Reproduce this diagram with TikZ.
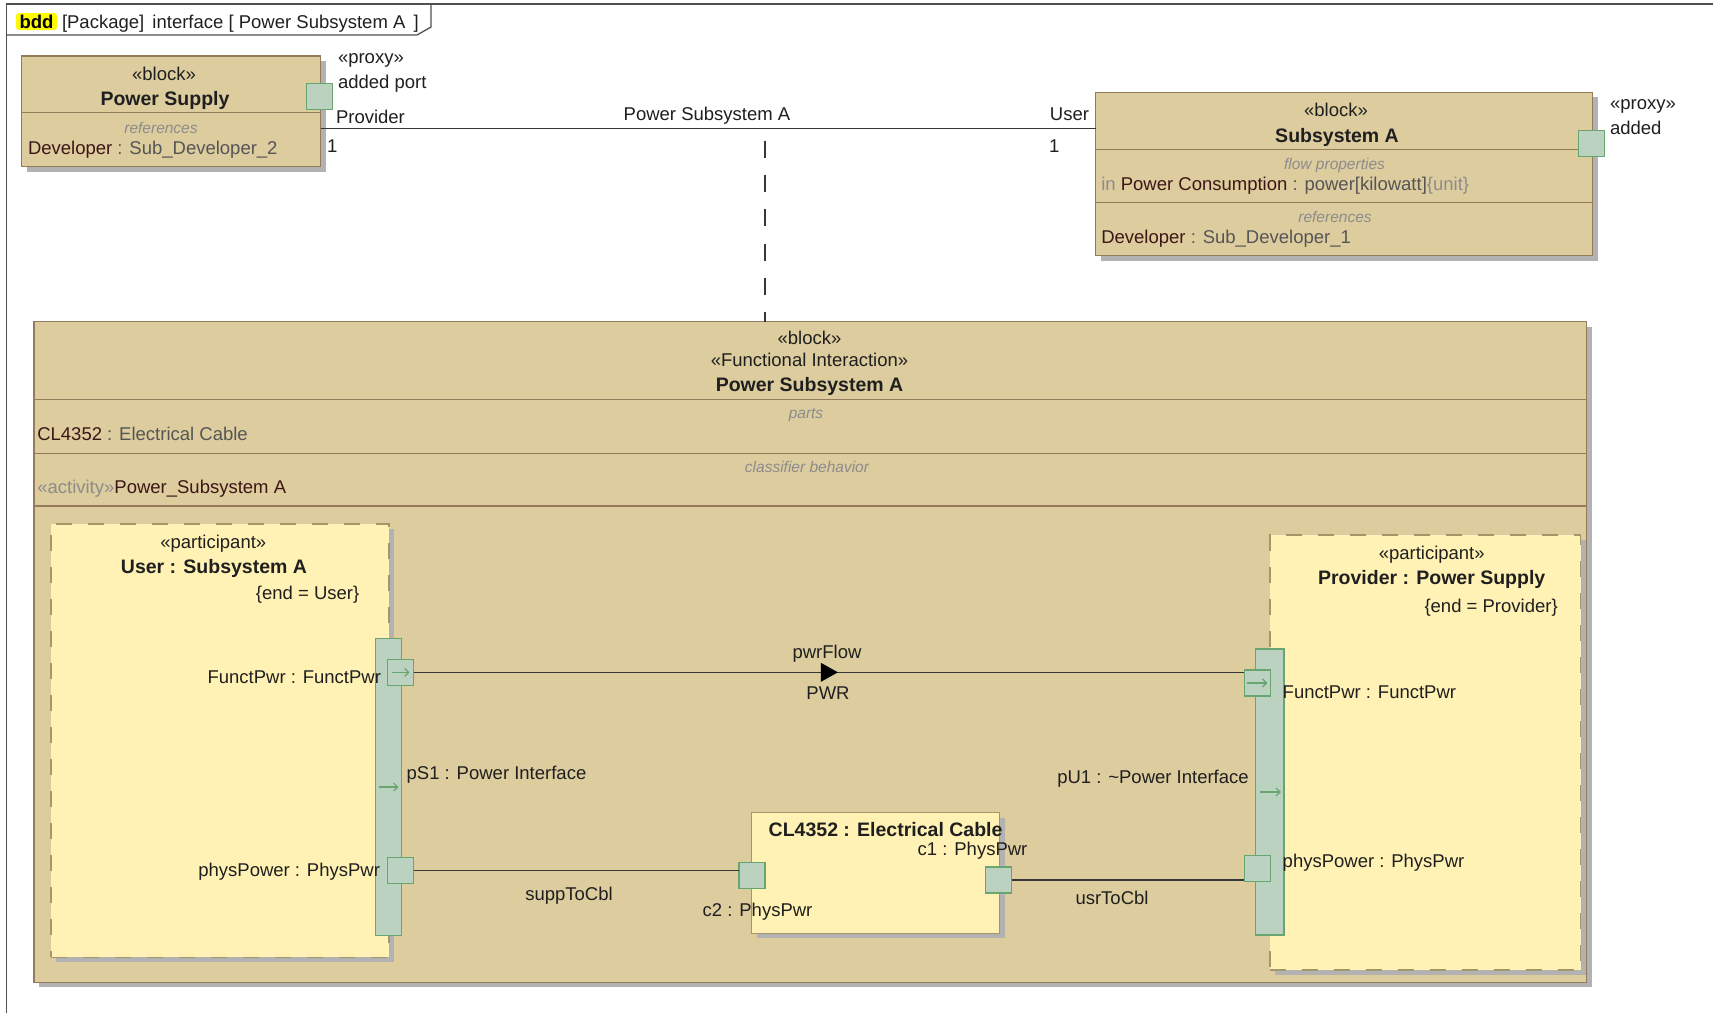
\documentclass[tikz,border=0pt]{standalone}
\usepackage{fontspec}
\setmainfont{Liberation Sans}
\usetikzlibrary{arrows.meta,shadows,calc}
\definecolor{blkfill}{RGB}{220,204,158}
\definecolor{blkdraw}{RGB}{150,122,92}
\definecolor{partfill}{RGB}{255,242,180}
\definecolor{partdraw}{RGB}{165,150,105}
\definecolor{portfill}{RGB}{188,210,193}
\definecolor{portdraw}{RGB}{104,165,112}
\definecolor{shadowc}{RGB}{178,178,178}
\definecolor{linec}{RGB}{55,55,55}
\definecolor{namec}{RGB}{60,22,22}
\definecolor{typec}{RGB}{85,85,85}
\definecolor{metac}{RGB}{140,140,140}
\definecolor{hl}{RGB}{255,250,0}
\definecolor{framec}{RGB}{80,80,80}
\begin{document}
\begin{tikzpicture}[x=1pt,y=-1pt,
  every node/.style={inner sep=0pt, outer sep=0pt},
  txt/.style={font=\fontsize{18.5}{21}\selectfont, text height=13.2, text depth=0, text=black!88},
  txtb/.style={txt, font=\fontsize{19.5}{22}\selectfont\bfseries},
  txtm/.style={font=\fontsize{15.5}{18}\selectfont\itshape, text height=11.1, text depth=0, text=metac},
  dropsh/.style={general shadow={fill=shadowc, shadow xshift=5pt, shadow yshift=-5pt}},
  blockbox/.style={draw=blkdraw, fill=blkfill, line width=1.3, dropsh},
  partbox/.style={draw=partdraw, fill=partfill, line width=1.5, dash pattern=on 16pt off 16pt, dropsh},
  cablebox/.style={draw=partdraw, fill=partfill, line width=1.5, dropsh},
  divline/.style={draw=blkdraw, line width=1.3},
  portsq/.style={draw=portdraw, fill=portfill, line width=1.3, minimum width=26, minimum height=26},
  portbar/.style={draw=portdraw, fill=portfill, line width=1.3},
  portarrow/.style={draw=portdraw, line width=1.2, -{Straight Barb[length=4pt,width=8pt]}},
  conn/.style={draw=linec, line width=1.5}
]
\fill[white] (0,0) rectangle (1713,1013);
\useasboundingbox (0,0) rectangle (1713,1013);

% frame
\draw[framec, line width=1.3] (1713,4) -- (6.7,4) -- (6.7,1013);
\draw[framec, line width=1.3] (6.7,35) -- (417,35) -- (431,27) -- (431,4);
\node[fill=hl, rounded corners=3, minimum width=41, minimum height=17, font=\fontsize{18.5}{21}\selectfont\bfseries, text height=13.2, text depth=0] (bdd) at (36.5,21.5) {bdd};
\node[txt, anchor=west] (ttl) at (62,21.5) {[Package]\ \,interface [\ Power Subsystem A\ \,]};

% Power Supply block
\node[blockbox, minimum width=299, minimum height=110.7] (ps) at (171.2,111.35) {};
\draw[divline] (21.7,112.7) -- (320.7,112.7);
\node[txt] (psst) at (164,74) {«block»};
\node[txtb] (psnm) at (165,99) {Power Supply};
\node[txtm] (psref) at (161,128) {references};
\node[txt, anchor=west] (psdev) at (28,148) {{\color{namec}Developer}{\color{typec}\ : Sub\_Developer\_2}};
\node[portsq] (psp) at (319.5,96.5) {};
\node[txt, anchor=west] (psprx) at (338,57) {«proxy»};
\node[txt, anchor=west] (psadd) at (338,82) {added port};

% Subsystem A block
\node[blockbox, minimum width=496.9, minimum height=163.4] (sa) at (1344.25,174) {};
\draw[divline] (1095.8,149.3) -- (1592.7,149.3);
\draw[divline] (1095.8,202.7) -- (1592.7,202.7);
\node[txt] (sast) at (1336,110) {«block»};
\node[txtb] (sanm) at (1337,136) {Subsystem A};
\node[txtm] (saflow) at (1334.5,164) {flow properties};
\node[txt, anchor=west] (saprop) at (1101.3,184) {{\color{metac}in }{\color{namec}Power Consumption}{\color{typec}\ : power[kilowatt]}{\color{metac}\{unit\}}};
\node[txtm] (saref) at (1335,217) {references};
\node[txt, anchor=west] (sadev) at (1101.3,236.7) {{\color{namec}Developer}{\color{typec}\ : Sub\_Developer\_1}};
\node[portsq] (sap) at (1591.5,143.3) {};
\node[txt, anchor=west] (saprx) at (1610,103.3) {«proxy»};
\node[txt, anchor=west] (saadd) at (1610,128) {added};

% association
\coordinate (aY) at (0,128.3);
\draw[conn] (ps.east |- aY) -- (sa.west |- aY);
\node[txt, anchor=west] (provlbl) at (336,117) {Provider};
\node[txt, anchor=west] (prov1) at (327,146) {1};
\node[txt, anchor=east] (userlbl) at (1089,114) {User};
\node[txt, anchor=west] (user1) at (1049,146) {1};
\node[txt] (asslbl) at (707,114) {Power Subsystem A};

% big block
\node[blockbox, minimum width=1552.6, minimum height=660.6] (pss) at (810.2,652) {};
\draw[divline] (33.9,399.3) -- (1586.5,399.3);
\draw[divline] (33.9,453.3) -- (1586.5,453.3);
\draw[divline] (33.9,506) -- (1586.5,506);
\node[txt] (pssst) at (809.5,337.6) {«block»};
\node[txt] (pssfi) at (809.5,359.4) {«Functional Interaction»};
\node[txtb] (pssnm) at (809.5,384.6) {Power Subsystem A};
\node[txtm] (pssparts) at (806,413) {parts};
\node[txt, anchor=west] (psspart) at (37.3,434) {{\color{namec}CL4352}{\color{typec}\ : Electrical Cable}};
\node[txtm] (psscb) at (807,466.5) {classifier behavior};
\node[txt, anchor=west] (pssact) at (37.3,486.7) {{\color{metac}«activity»}{\color{namec}Power\_Subsystem A}};

% dashed link
\coordinate (dX) at (765,0);
\draw[conn, line width=1.8, dash pattern=on 17pt off 17.3pt] ($(dX |- aY)+(0,12.4)$) -- (dX |- pss.north);

% User participant
\node[partbox, minimum width=338, minimum height=433.3] (usr) at (220,740.65) {};
\node[txt] (usrst) at (213.3,541.7) {«participant»};
\node[txtb] (usrnm) at (214,566.7) {User : Subsystem A};
\node[txt, anchor=east] (usrend) at (359.3,593.3) {\{end = User\}};

% Provider participant
\node[partbox, minimum width=310.7, minimum height=435] (prv) at (1425.35,752.5) {};
\node[txt] (prvst) at (1431.7,553.3) {«participant»};
\node[txtb] (prvnm) at (1431.7,578.3) {Provider : Power Supply};
\node[txt, anchor=east] (prvend) at (1557.7,605.7) {\{end = Provider\}};

% port bars
\node[portbar, minimum width=26.4, minimum height=296.6] (ub) at (388.5,787) {};
\node[portbar, minimum width=28.3, minimum height=286] (pb) at (1269.85,792) {};
\draw[portarrow] ($(ub.center)+(-10,0)$) -- ($(ub.center)+(10,0)$);
\draw[portarrow] ($(pb.center)+(-10,0)$) -- ($(pb.center)+(11,0)$);
\node[txt, anchor=west] (ps1) at (406.7,773.3) {pS1 : Power Interface};
\node[txt, anchor=east] (pu1) at (1248.7,776.8) {pU1 : \textasciitilde Power Interface};

% small ports
\node[portsq] (uF) at (400.5,672.3) {};
\node[portsq] (uP) at (400.5,870.7) {};
\node[portsq] (pF) at (1257.3,683) {};
\node[portsq] (pP) at (1257.3,868.5) {};
\draw[portarrow] ($(uF.center)+(-9,0)$) -- ($(uF.center)+(9,0)$);
\draw[portarrow] ($(pF.center)+(-10,0)$) -- ($(pF.center)+(10,0)$);
\node[txt, anchor=east] (uFl) at (381,676.7) {FunctPwr : FunctPwr};
\node[txt, anchor=east] (uPl) at (380,870) {physPower : PhysPwr};
\node[txt, anchor=west] (pFl) at (1282.7,691.7) {FunctPwr : FunctPwr};
\node[txt, anchor=west] (pPl) at (1282.7,860.7) {physPower : PhysPwr};

% cable
\node[cablebox, minimum width=248, minimum height=120.6] (cab) at (875.6,873) {};
\node[txtb] (cabnm) at (885.6,830) {CL4352 : Electrical Cable};
\node[portsq] (c2) at (752,875.8) {};
\node[portsq] (c1) at (998.7,880) {};
\node[txt, anchor=west] (c2l) at (702.7,910) {c2 : PhysPwr};
\node[txt, anchor=west] (c1l) at (917.7,849.3) {c1 : PhysPwr};

% connectors
\draw[conn] (uF.east) -- (uF.east -| pF.west);
\coordinate (fm) at ($(uF.east)!0.5!(uF.east -| pF.west)$);
\fill[black] ($(fm)+(-8,-9.5)$) -- ($(fm)+(9,0)$) -- ($(fm)+(-8,9.5)$) -- cycle;
\node[txt] (flowl) at (827,652) {pwrFlow};
\node[txt] (pwrl) at (828,692.6) {PWR};
\draw[conn] (uP.east) -- (uP.east -| c2.west);
\node[txt] (supl) at (569,893.6) {suppToCbl};
\draw[conn] (c1.east) -- (c1.east -| pP.west);
\node[txt] (usrl) at (1112,898.3) {usrToCbl};
\end{tikzpicture}
\end{document}
